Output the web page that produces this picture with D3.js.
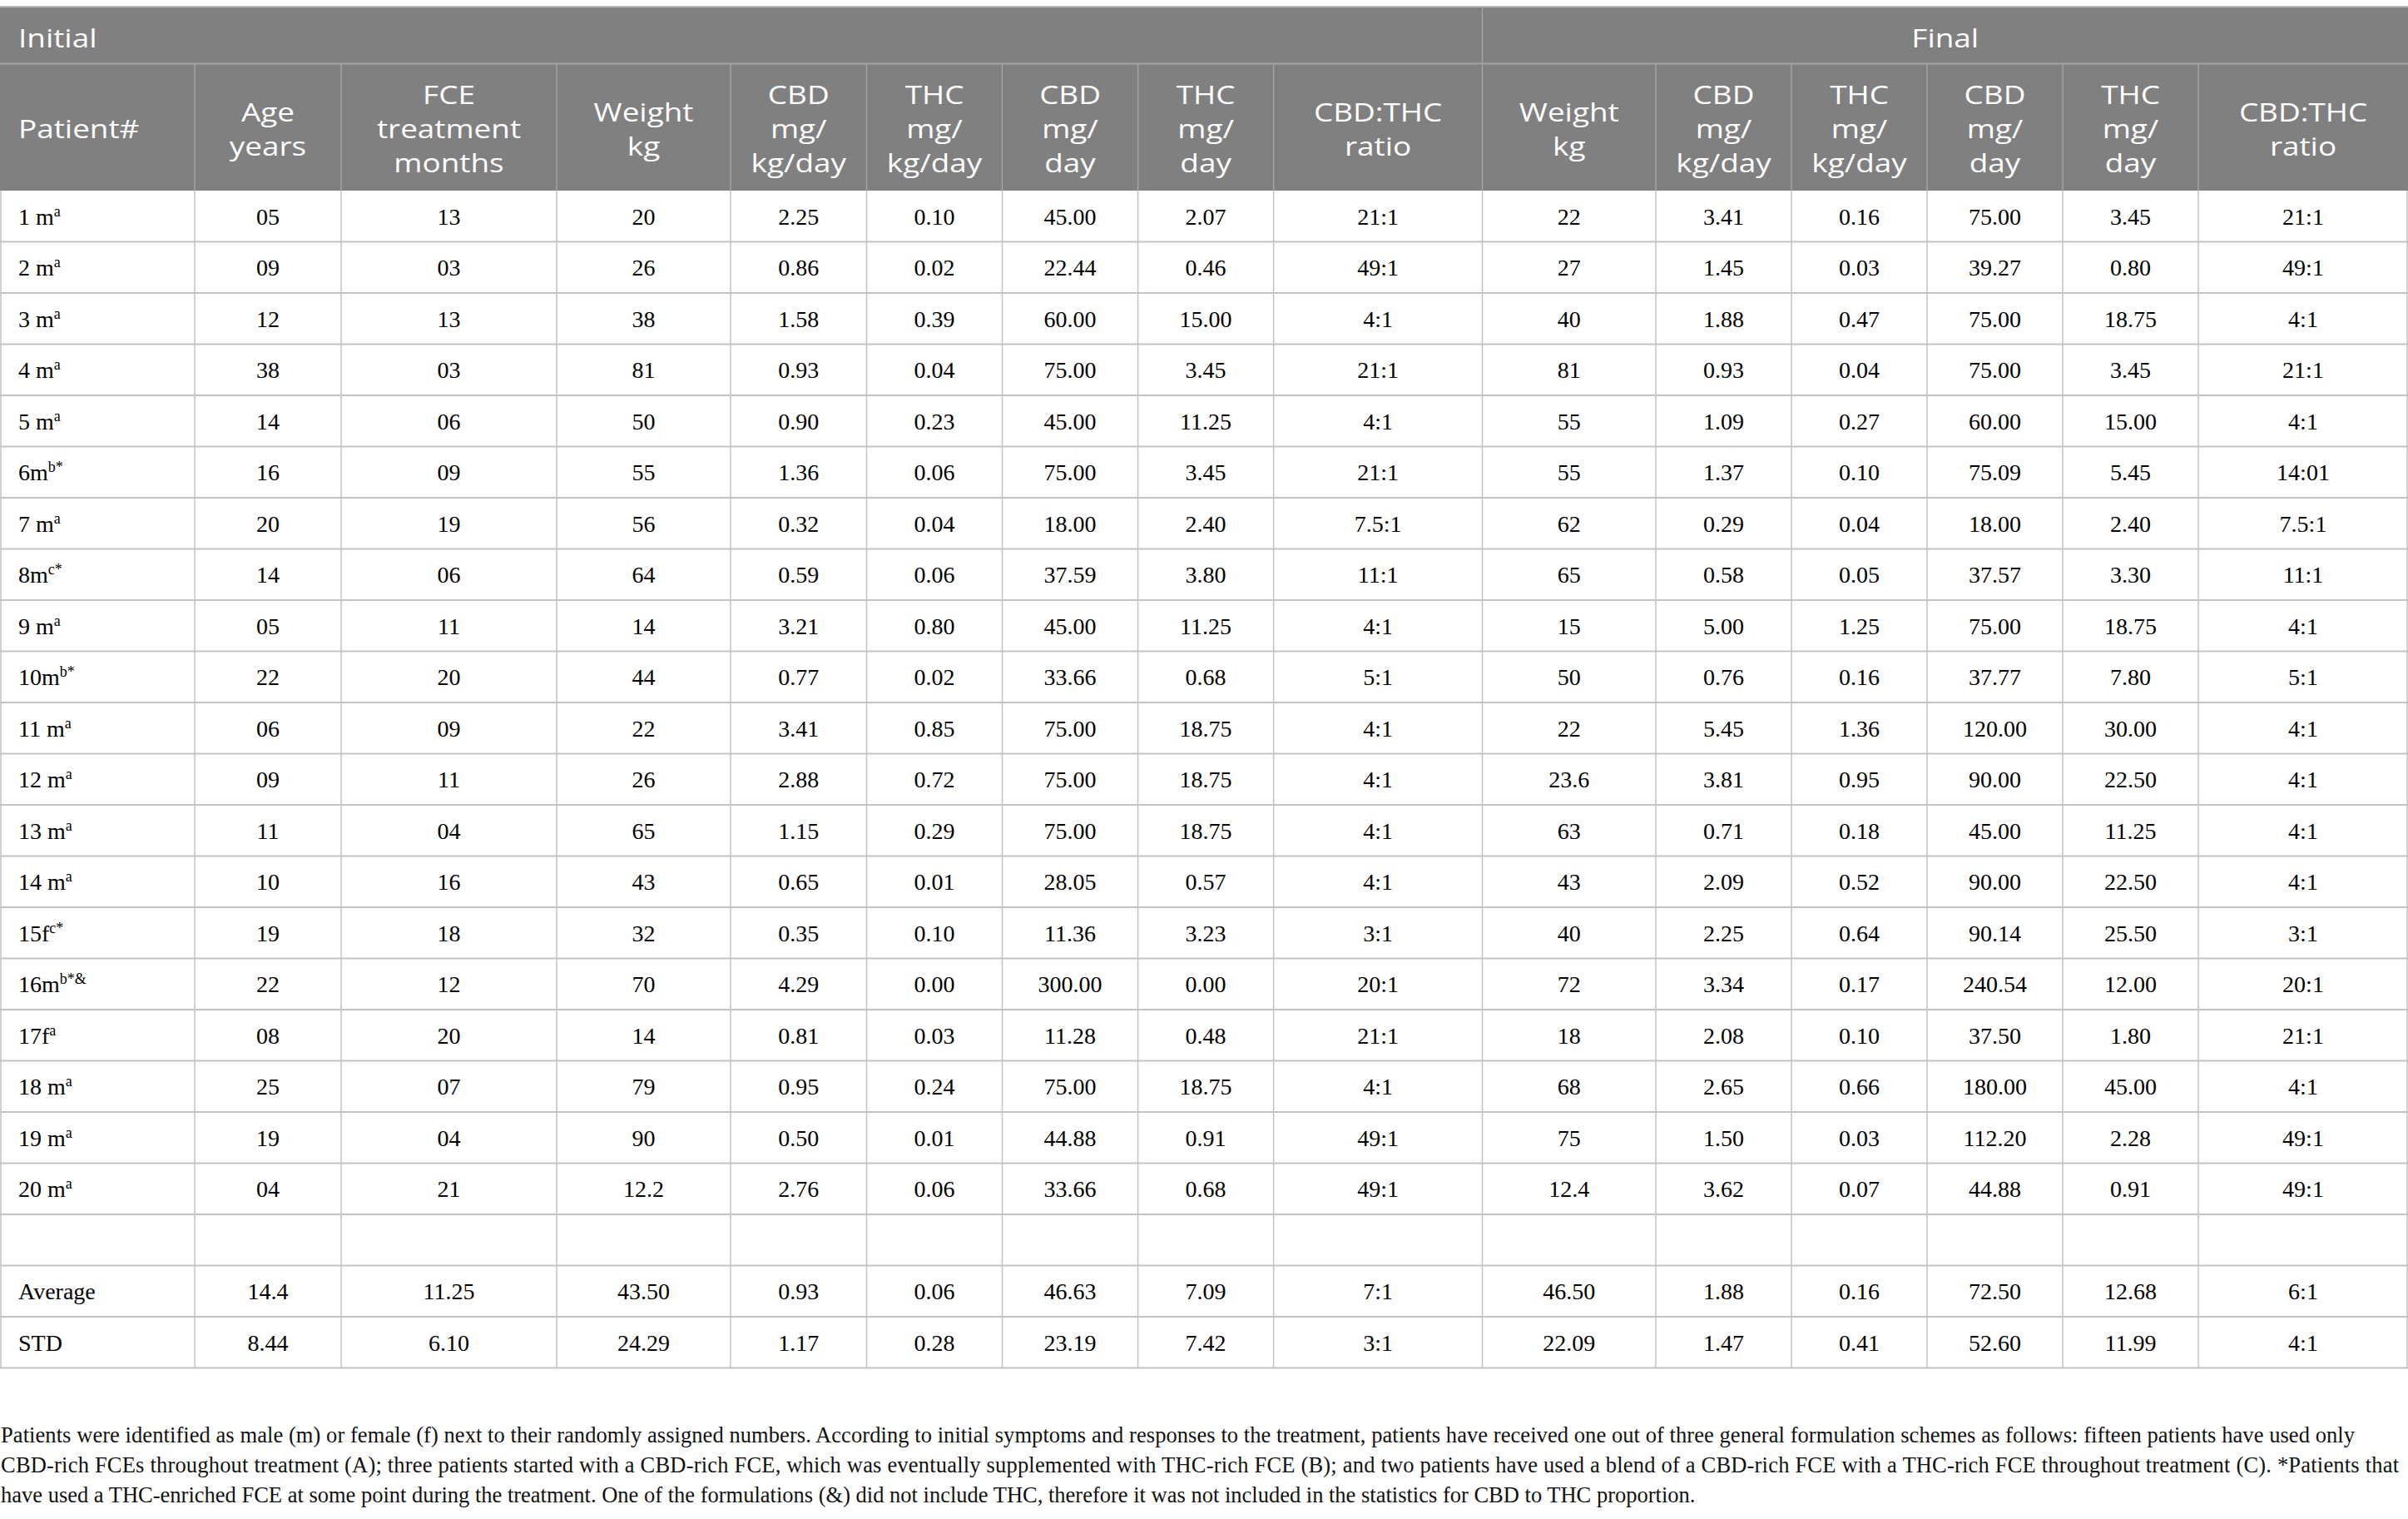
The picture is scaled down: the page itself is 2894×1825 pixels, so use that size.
<!DOCTYPE html>
<html>
<head>
<meta charset="utf-8">
<script src="https://cdn.jsdelivr.net/npm/d3@7"></script>
<style>
  html, body { margin: 0; padding: 0; background: #ffffff; }
  svg { display: block; }
</style>
</head>
<body>
<div id="chart"></div>
<script>
// ---------------- DATA ----------------
const groupLabels = ["Initial", "Final"];

const headerLabels = [
  ["Patient#"], ["Age", "years"], ["FCE", "treatment", "months"], ["Weight", "kg"],
  ["CBD", "mg/", "kg/day"], ["THC", "mg/", "kg/day"], ["CBD", "mg/", "day"], ["THC", "mg/", "day"],
  ["CBD:THC", "ratio"],
  ["Weight", "kg"], ["CBD", "mg/", "kg/day"], ["THC", "mg/", "kg/day"], ["CBD", "mg/", "day"],
  ["THC", "mg/", "day"], ["CBD:THC", "ratio"]
];

const patients = ["1 m", "2 m", "3 m", "4 m", "5 m", "6m", "7 m", "8m", "9 m", "10m",
  "11 m", "12 m", "13 m", "14 m", "15f", "16m", "17f", "18 m", "19 m", "20 m"];
const patientSup = ["a", "a", "a", "a", "a", "b*", "a", "c*", "a", "b*",
  "a", "a", "a", "a", "c*", "b*&", "a", "a", "a", "a"];

const initAge = ["05", "09", "12", "38", "14", "16", "20", "14", "05", "22", "06", "09", "11", "10", "19", "22", "08", "25", "19", "04"];
const initMonths = ["13", "03", "13", "03", "06", "09", "19", "06", "11", "20", "09", "11", "04", "16", "18", "12", "20", "07", "04", "21"];
const initWeight = ["20", "26", "38", "81", "50", "55", "56", "64", "14", "44", "22", "26", "65", "43", "32", "70", "14", "79", "90", "12.2"];
const initCbdKg = ["2.25", "0.86", "1.58", "0.93", "0.90", "1.36", "0.32", "0.59", "3.21", "0.77", "3.41", "2.88", "1.15", "0.65", "0.35", "4.29", "0.81", "0.95", "0.50", "2.76"];
const initThcKg = ["0.10", "0.02", "0.39", "0.04", "0.23", "0.06", "0.04", "0.06", "0.80", "0.02", "0.85", "0.72", "0.29", "0.01", "0.10", "0.00", "0.03", "0.24", "0.01", "0.06"];
const initCbdDay = ["45.00", "22.44", "60.00", "75.00", "45.00", "75.00", "18.00", "37.59", "45.00", "33.66", "75.00", "75.00", "75.00", "28.05", "11.36", "300.00", "11.28", "75.00", "44.88", "33.66"];
const initThcDay = ["2.07", "0.46", "15.00", "3.45", "11.25", "3.45", "2.40", "3.80", "11.25", "0.68", "18.75", "18.75", "18.75", "0.57", "3.23", "0.00", "0.48", "18.75", "0.91", "0.68"];
const initRatio = ["21:1", "49:1", "4:1", "21:1", "4:1", "21:1", "7.5:1", "11:1", "4:1", "5:1", "4:1", "4:1", "4:1", "4:1", "3:1", "20:1", "21:1", "4:1", "49:1", "49:1"];

const finWeight = ["22", "27", "40", "81", "55", "55", "62", "65", "15", "50", "22", "23.6", "63", "43", "40", "72", "18", "68", "75", "12.4"];
const finCbdKg = ["3.41", "1.45", "1.88", "0.93", "1.09", "1.37", "0.29", "0.58", "5.00", "0.76", "5.45", "3.81", "0.71", "2.09", "2.25", "3.34", "2.08", "2.65", "1.50", "3.62"];
const finThcKg = ["0.16", "0.03", "0.47", "0.04", "0.27", "0.10", "0.04", "0.05", "1.25", "0.16", "1.36", "0.95", "0.18", "0.52", "0.64", "0.17", "0.10", "0.66", "0.03", "0.07"];
const finCbdDay = ["75.00", "39.27", "75.00", "75.00", "60.00", "75.09", "18.00", "37.57", "75.00", "37.77", "120.00", "90.00", "45.00", "90.00", "90.14", "240.54", "37.50", "180.00", "112.20", "44.88"];
const finThcDay = ["3.45", "0.80", "18.75", "3.45", "15.00", "5.45", "2.40", "3.30", "18.75", "7.80", "30.00", "22.50", "11.25", "22.50", "25.50", "12.00", "1.80", "45.00", "2.28", "0.91"];
const finRatio = ["21:1", "49:1", "4:1", "21:1", "4:1", "14:01", "7.5:1", "11:1", "4:1", "5:1", "4:1", "4:1", "4:1", "4:1", "3:1", "20:1", "21:1", "4:1", "49:1", "49:1"];

const summaryLabels = ["Average", "STD"];
const averageRow = ["14.4", "11.25", "43.50", "0.93", "0.06", "46.63", "7.09", "7:1", "46.50", "1.88", "0.16", "72.50", "12.68", "6:1"];
const stdRow = ["8.44", "6.10", "24.29", "1.17", "0.28", "23.19", "7.42", "3:1", "22.09", "1.47", "0.41", "52.60", "11.99", "4:1"];

const footnoteLines = [
  "Patients were identified as male (m) or female (f) next to their randomly assigned numbers. According to initial symptoms and responses to the treatment, patients have received one out of three general formulation schemes as follows: fifteen patients have used only",
  "CBD-rich FCEs throughout treatment (A); three patients started with a CBD-rich FCE, which was eventually supplemented with THC-rich FCE (B); and two patients have used a blend of a CBD-rich FCE with a THC-rich FCE throughout treatment (C). *Patients that",
  "have used a THC-enriched FCE at some point during the treatment. One of the formulations (&) did not include THC, therefore it was not included in the statistics for CBD to THC proportion."
];

// ---------------- LAYOUT ----------------
const W = 2894, H = 1825;
const colEdges = [0, 234, 410, 669, 878, 1041.5, 1204.5, 1367.6, 1530.6, 1781.5, 1990, 2153, 2316, 2479, 2642, 2894];
const topY = 8, head1Bottom = 76.5, headBottom = 229, tableBottom = 1643.5;
const headBg = "#808080";
const gridColor = "#c3c3c3";
const headGrid = "#a3a3a3";
const serif = "'Liberation Serif', 'Times New Roman', serif";
const sans = "'Open Sans', 'Noto Sans', sans-serif";
const headScaleX = 1.19;

const valueCols = [initAge, initMonths, initWeight, initCbdKg, initThcKg, initCbdDay, initThcDay, initRatio,
  finWeight, finCbdKg, finThcKg, finCbdDay, finThcDay, finRatio];

// body rows: 20 patients, 1 empty, average, std
const bodyRows = [];
patients.forEach((p, i) => bodyRows.push({ label: p, sup: patientSup[i], values: valueCols.map(c => c[i]) }));
bodyRows.push({ label: "", sup: "", values: valueCols.map(() => "") });
bodyRows.push({ label: summaryLabels[0], sup: "", values: averageRow });
bodyRows.push({ label: summaryLabels[1], sup: "", values: stdRow });

const y = d3.scaleBand().domain(d3.range(bodyRows.length)).range([headBottom, tableBottom]).paddingInner(0).paddingOuter(0);
const colCenter = i => (colEdges[i] + colEdges[i + 1]) / 2;

const svg = d3.select("#chart").append("svg").attr("width", W).attr("height", H).attr("viewBox", `0 0 ${W} ${H}`);
svg.append("rect").attr("width", W).attr("height", H).attr("fill", "#fff");

// header background
svg.append("rect").attr("x", 0).attr("y", topY).attr("width", W).attr("height", headBottom - topY).attr("fill", headBg);

// header grid lines
svg.append("line").attr("x1", 0).attr("x2", W).attr("y1", topY).attr("y2", topY).attr("stroke", "#b8b8b8").attr("stroke-width", 2);
svg.append("line").attr("x1", 0).attr("x2", W).attr("y1", head1Bottom).attr("y2", head1Bottom).attr("stroke", headGrid).attr("stroke-width", 2);
svg.append("line").attr("x1", colEdges[9]).attr("x2", colEdges[9]).attr("y1", topY).attr("y2", head1Bottom).attr("stroke", headGrid).attr("stroke-width", 1.5);
svg.append("g").selectAll("line").data(colEdges.slice(1, -1)).join("line")
  .attr("x1", d => d).attr("x2", d => d).attr("y1", head1Bottom).attr("y2", headBottom)
  .attr("stroke", headGrid).attr("stroke-width", 1.5);

// group header labels
svg.append("text").attr("transform", `translate(22,57) scale(${headScaleX},1)`)
  .attr("font-family", sans).attr("font-size", 31).attr("fill", "#fff").text(groupLabels[0]);
svg.append("text").attr("transform", `translate(${(colEdges[9] + colEdges[15]) / 2},57) scale(${headScaleX},1)`)
  .attr("text-anchor", "middle").attr("font-family", sans).attr("font-size", 31).attr("fill", "#fff").text(groupLabels[1]);

// column header labels
const lineGap = 41, headMid = 166;
const hg = svg.append("g").selectAll("g").data(headerLabels).join("g");
hg.each(function (lines, i) {
  const g = d3.select(this);
  const n = lines.length;
  lines.forEach((t, k) => {
    const yy = headMid - (n - 1) * lineGap / 2 + k * lineGap;
    const xx = i === 0 ? 22 : colCenter(i);
    g.append("text")
      .attr("transform", `translate(${xx},${yy}) scale(${headScaleX},1)`)
      .attr("text-anchor", i === 0 ? "start" : "middle")
      .attr("font-family", sans).attr("font-size", 31).attr("fill", "#fff")
      .text(t);
  });
});

// body grid
svg.append("g").selectAll("line").data(d3.range(bodyRows.length)).join("line")
  .attr("x1", 0).attr("x2", W)
  .attr("y1", d => y(d) + y.bandwidth()).attr("y2", d => y(d) + y.bandwidth())
  .attr("stroke", gridColor).attr("stroke-width", 2);
svg.append("g").selectAll("line").data(colEdges).join("line")
  .attr("x1", d => Math.min(Math.max(d, 1), W - 1)).attr("x2", d => Math.min(Math.max(d, 1), W - 1))
  .attr("y1", headBottom).attr("y2", tableBottom)
  .attr("stroke", gridColor).attr("stroke-width", 1.5);

// body text
const fs = 28;
const rowsG = svg.append("g").selectAll("g").data(bodyRows).join("g")
  .attr("transform", (d, i) => `translate(0,${y(i) + y.bandwidth() / 2 + 10})`);

const lab = rowsG.append("text").attr("x", 22).attr("font-family", serif).attr("font-size", fs).attr("fill", "#000");
lab.append("tspan").text(d => d.label);
lab.filter(d => d.sup).append("tspan").attr("font-size", 18).attr("dy", -10).text(d => d.sup);

rowsG.selectAll("text.v").data(d => d.values).join("text").attr("class", "v")
  .attr("x", (d, i) => colCenter(i + 1)).attr("text-anchor", "middle")
  .attr("font-family", serif).attr("font-size", fs).attr("fill", "#000")
  .text(d => d);

// footnote
const footBase = [1732.5, 1768.5, 1804.5];
const footLen = [2829, 2882, null];
svg.append("g").selectAll("text").data(footnoteLines).join("text")
  .attr("x", 1).attr("y", (d, i) => footBase[i])
  .attr("font-family", serif).attr("font-size", 26.5).attr("fill", "#111")
  .each(function (d, i) {
    if (footLen[i]) d3.select(this).attr("textLength", footLen[i]).attr("lengthAdjust", "spacing");
  })
  .text(d => d);
</script>
</body>
</html>
